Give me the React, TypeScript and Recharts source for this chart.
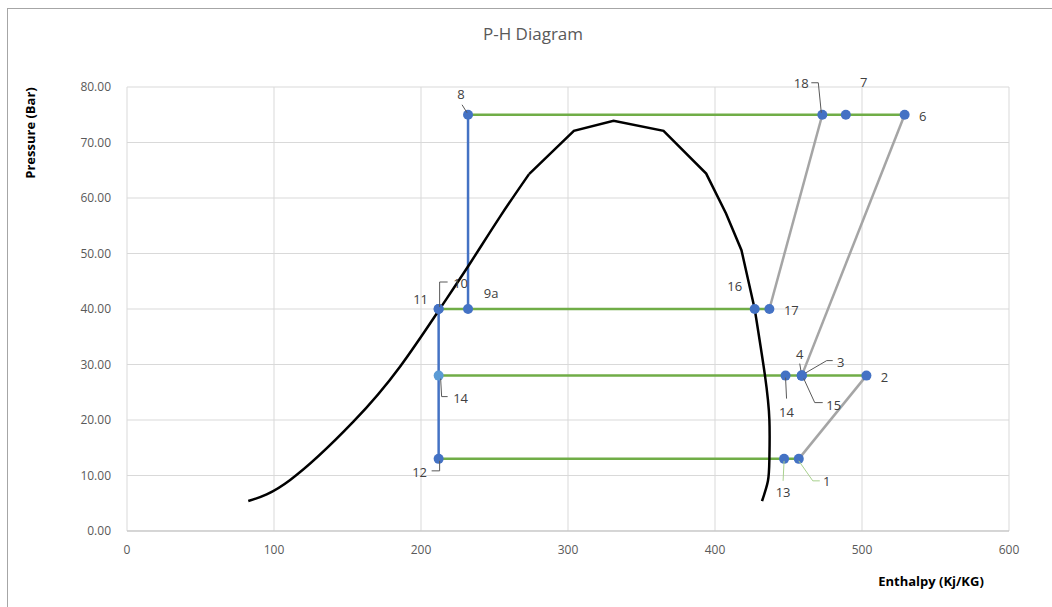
import React from 'react';
import { ComposedChart, Line, Scatter, XAxis, YAxis, CartesianGrid } from 'recharts';

// Saturation dome of the refrigerant (enthalpy kJ/kg, pressure bar), in three parts
const domeLeftH = [82.5, 111, 154, 185.7, 213, 233.3, 253.7, 273.5];
const domeLeftP = [5.4, 9.2, 19.7, 29.6, 40.1, 48.2, 56.6, 64.3];
const domeTopH = [273.5, 304, 331, 365, 394, 407.5, 418, 427];
const domeTopP = [64.3, 72.1, 73.9, 72.1, 64.4, 57.2, 50.6, 40];
const domeRightH = [427, 434, 437, 437, 436, 432];
const domeRightP = [40, 28, 20, 13, 9, 5.4];

// Isobars (green): pressure level, start and end enthalpy
const isobarP = [75, 40, 28, 13];
const isobarFromH = [232, 212, 212, 212];
const isobarToH = [529, 437, 503, 457];

// Expansion lines (blue): enthalpy, low and high pressure
const expansionH = [232, 212];
const expansionLowP = [40, 13];
const expansionHighP = [75, 40];

// Compression lines (grey)
const compFromH = [457, 459, 437];
const compFromP = [13, 28, 40];
const compToH = [503, 529, 473];
const compToP = [28, 75, 75];

// State points
const stateLabels = ['8', '18', '7', '6', '11', '10', '9a', '16', '17', '14', '12', '14', '4', '3', '15', '2', '13', '1'];
const stateH = [232, 473, 489, 529, 212, 212, 232, 427, 437, 212, 212, 448, 459, 459, 459, 503, 447, 457];
const stateP = [75, 75, 75, 75, 40, 40, 40, 40, 40, 28, 13, 28, 28, 28, 28, 28, 13, 13];

const xTicks = [0, 100, 200, 300, 400, 500, 600];
const yTicks = [0, 10, 20, 30, 40, 50, 60, 70, 80];

// label placement relative to the marker (pixels)
type LabelPos = { dx: number; dy: number; leader?: number[][]; leaderColor?: string; fill?: string };
const labelPos: LabelPos[] = [
  { dx: -7, dy: -21, leader: [[-6, -10], [-1, -2]] },
  { dx: -21, dy: -32, leader: [[-11, -32], [-4, -32], [-1, -2]] },
  { dx: 18, dy: -33 },
  { dx: 18, dy: 1 },
  { dx: -18, dy: -10 },
  { dx: 22, dy: -26, leader: [[9, -27], [1, -27], [1, -2]] },
  { dx: 23, dy: -16 },
  { dx: -20, dy: -23 },
  { dx: 22, dy: 1 },
  { dx: 22, dy: 22, leader: [[2, 3], [3, 21], [9, 21]], fill: '#5b9bd5' },
  { dx: -19, dy: 13, leader: [[1, 2], [1, 12], [-7, 12]] },
  { dx: 1, dy: 36, leader: [[0, 2], [1, 23]] },
  { dx: -2, dy: -22, leader: [[0, 0], [-2, -12]] },
  { dx: 39, dy: -14, leader: [[1, -1], [25, -15], [31, -15]] },
  { dx: 32, dy: 29, leader: [[2, 3], [13, 27], [21, 27]] },
  { dx: 18, dy: 1 },
  { dx: -1, dy: 33, leader: [[0, 2], [-1, 22]], leaderColor: '#a9d18e' },
  { dx: 28, dy: 22, leader: [[0, 2], [14, 22], [21, 22]], leaderColor: '#a9d18e' },
];

const font = '"Open Sans", sans-serif';

const toPoints = (hs: number[], ps: number[]) => hs.map((h, i) => ({ h, p: ps[i] }));
const domeLeft = toPoints(domeLeftH, domeLeftP);
const domeTop = toPoints(domeTopH, domeTopP);
const domeRight = toPoints(domeRightH, domeRightP);
const isobars = isobarP.map((p, i) => [{ h: isobarFromH[i], p }, { h: isobarToH[i], p }]);
const expansions = expansionH.map((h, i) => [{ h, p: expansionLowP[i] }, { h, p: expansionHighP[i] }]);
const compressions = compFromH.map((h, i) => [{ h, p: compFromP[i] }, { h: compToH[i], p: compToP[i] }]);
const states = stateLabels.map((label, i) => ({ label, h: stateH[i], p: stateP[i], idx: i }));

const StateMarker = (props: any) => {
  const { cx, cy, payload } = props;
  const pos = labelPos[payload.idx];
  return (
    <g>
      <circle cx={cx} cy={cy} r={5} fill={pos.fill || '#4472c4'} />
      {pos.leader && (
        <polyline
          points={pos.leader.map(([x, y]) => `${cx + x},${cy + y}`).join(' ')}
          fill="none"
          stroke={pos.leaderColor || '#595959'}
          strokeWidth={1}
        />
      )}
      <text x={cx + pos.dx} y={cy + pos.dy} textAnchor="middle" dominantBaseline="central"
        fontSize={13} fill="#404040" fontFamily={font}>
        {payload.label}
      </text>
    </g>
  );
};

export default function App() {
  return (
    <div style={{ position: 'fixed', left: 0, top: 0, width: 1052, height: 607, overflow: 'hidden', background: '#fff' }}>
      <div style={{ position: 'absolute', left: 7, top: 8, width: 1200, height: 800, border: '1px solid #a6a6a6' }} />
      <div style={{ position: 'absolute', left: 0, width: 1066, top: 22, textAlign: 'center', fontFamily: font, fontSize: 17, color: '#595959' }}>
        P-H Diagram
      </div>
      <div style={{ position: 'absolute', left: 30, top: 133, transform: 'translate(-50%, -50%) rotate(-90deg)', whiteSpace: 'nowrap',
        fontFamily: font, fontSize: 13, fontWeight: 700, color: '#000' }}>
        Pressure (Bar)
      </div>
      <div style={{ position: 'absolute', left: 931, top: 581, transform: 'translate(-50%, -50%)', whiteSpace: 'nowrap',
        fontFamily: font, fontSize: 13, fontWeight: 700, color: '#000' }}>
        Enthalpy (Kj/KG)
      </div>
      <div style={{ position: 'absolute', left: 0, top: 0 }}>
        <ComposedChart width={1052} height={607} margin={{ top: 87, right: 43, left: 67, bottom: 46 }}>
          <CartesianGrid stroke="#d9d9d9" />
          <XAxis type="number" dataKey="h" domain={[0, 600]} ticks={xTicks} tickLine={false}
            axisLine={{ stroke: '#bfbfbf' }} tickMargin={8} height={30}
            tick={{ fill: '#595959', fontSize: 12, fontFamily: font }} />
          <YAxis type="number" dataKey="p" domain={[0, 80]} ticks={yTicks} tickLine={false} axisLine={false}
            tickMargin={10} width={60} tickFormatter={(v: number) => v.toFixed(2)}
            tick={{ fill: '#595959', fontSize: 12, fontFamily: font }} />
          {isobars.map((d, i) => (
            <Line key={'iso' + i} data={d} dataKey="p" stroke="#70ad47" strokeWidth={2.5} dot={false} isAnimationActive={false} />
          ))}
          {expansions.map((d, i) => (
            <Line key={'exp' + i} data={d} dataKey="p" stroke="#4472c4" strokeWidth={2.5} dot={false} isAnimationActive={false} />
          ))}
          {compressions.map((d, i) => (
            <Line key={'comp' + i} data={d} dataKey="p" stroke="#a5a5a5" strokeWidth={2.5} dot={false} isAnimationActive={false} />
          ))}
          <Scatter data={states} shape={StateMarker} isAnimationActive={false} />
          <Line data={domeLeft} dataKey="p" stroke="#000" strokeWidth={2.5} dot={false} type="natural" isAnimationActive={false} />
          <Line data={domeTop} dataKey="p" stroke="#000" strokeWidth={2.5} dot={false} type="linear" isAnimationActive={false} />
          <Line data={domeRight} dataKey="p" stroke="#000" strokeWidth={2.5} dot={false} type="natural" isAnimationActive={false} />
        </ComposedChart>
      </div>
    </div>
  );
}
